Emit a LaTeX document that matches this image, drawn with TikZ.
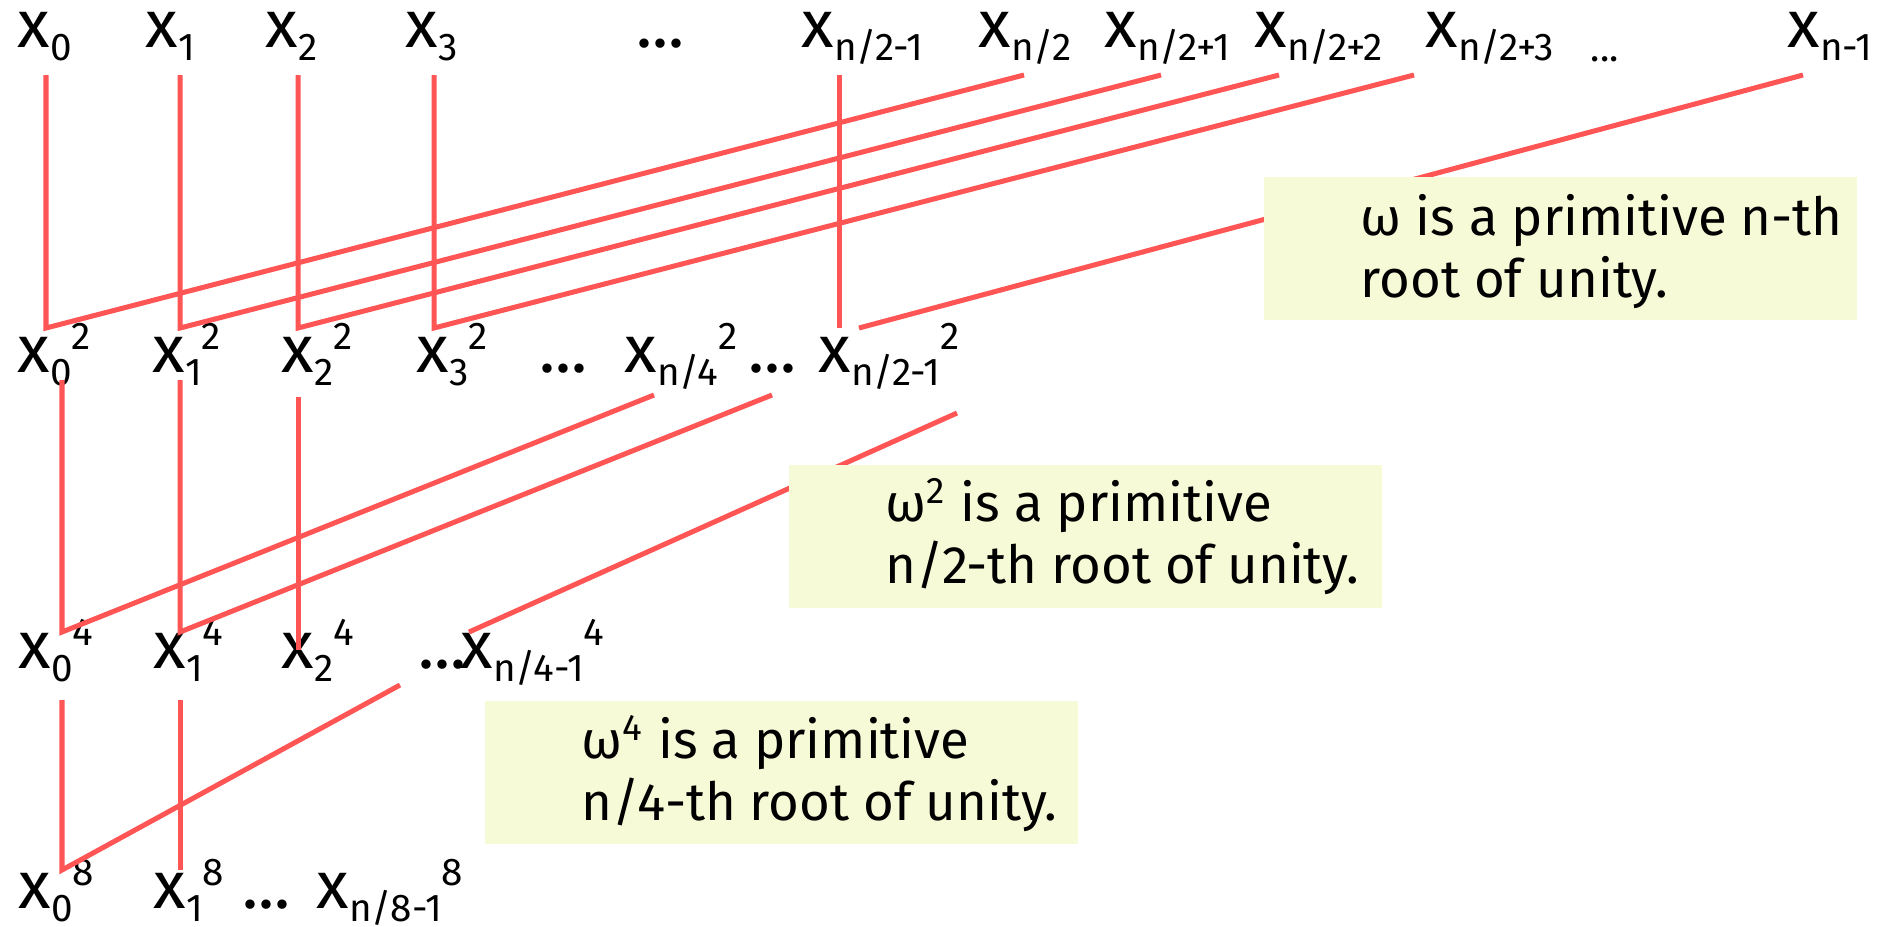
\documentclass[tikz,border=0pt]{standalone}
\usepackage{fontspec}
\setmainfont{Fira Sans}
\usetikzlibrary{positioning,calc}
\definecolor{linkred}{RGB}{255,85,85}
\definecolor{notebg}{RGB}{247,250,215}
\newcommand{\lblsz}{\fontsize{19}{22}\selectfont}
\newcommand{\idxsz}{\fontsize{11}{13}\selectfont}
\newcommand{\xlab}[2]{x\raisebox{-3.7pt}{\idxsz #1}\raisebox{6.3pt}{\idxsz #2}}
\tikzset{
  lbl/.style={anchor=base west, inner sep=0pt, font=\lblsz},
  link/.style={draw=linkred, line width=0.05cm},
  notebox/.style={anchor=north west, fill=notebg, minimum width=5.93cm, minimum height=1.43cm, inner sep=0pt},
  notetext/.style={anchor=base west, inner sep=0pt, align=left, font=\fontsize{15}{17.4}\selectfont}
}
\begin{document}
\begin{tikzpicture}[x=0.01cm, y=-0.01cm]
\useasboundingbox (0,0) rectangle (1892,926);

% inputs
\node[lbl] (t0) at (17,47) {\xlab{0}{}};
\node[lbl] (t1) at (145,47) {\xlab{1}{}};
\node[lbl] (t2) at (265,47) {\xlab{2}{}};
\node[lbl] (t3) at (405,47) {\xlab{3}{}};
\node[lbl] (tdots) at (636,47) {...};
\node[lbl] (thm) at (801,47) {\xlab{n/2-1}{}};
\node[lbl] (th) at (978,47) {\xlab{n/2}{}};
\node[lbl] (thp1) at (1104,47) {\xlab{n/2+1}{}};
\node[lbl] (thp2) at (1254,47) {\xlab{n/2+2}{}};
\node[lbl] (thp3) at (1425,47) {\xlab{n/2+3}{}};
\node[lbl, font=\idxsz] (tdots2) at (1590,61) {...};
\node[lbl] (tn) at (1787,47) {\xlab{n-1}{}};

% squares
\node[lbl] (s0) at (17,372) {\xlab{0}{2}};
\node[lbl] (s1) at (152,372) {\xlab{1}{2}};
\node[lbl] (s2) at (281,372) {\xlab{2}{2}};
\node[lbl] (s3) at (416,372) {\xlab{3}{2}};
\node[lbl] (sdots) at (539,372) {...};
\node[lbl] (sq) at (624,372) {\xlab{n/4}{2}};
\node[lbl] (sdots2) at (748,372) {...};
\node[lbl] (sh) at (818,372) {\xlab{n/2-1}{2}};

% fourth powers
\node[lbl] (f0) at (18,668) {\xlab{0}{4}};
\node[lbl] (f1) at (153,668) {\xlab{1}{4}};
\node[lbl] (f2) at (281,668) {\xlab{2}{4}};
\node[lbl] (fdots) at (418,668) {...};
\node[lbl] (fq) at (460,668) {\xlab{n/4-1}{4}};

% eighth powers
\node[lbl] (e0) at (18,908) {\xlab{0}{8}};
\node[lbl] (e1) at (153,908) {\xlab{1}{8}};
\node[lbl] (edots) at (242,908) {...};
\node[lbl] (eq) at (316,908) {\xlab{n/8-1}{8}};

% level 1
\coordinate (u0) at (46,75);  \coordinate (k0) at (46,328);  \coordinate (v0) at (1024,75);
\coordinate (u1) at (180,75); \coordinate (k1) at (180,328); \coordinate (v1) at (1161,75);
\coordinate (u2) at (298,75); \coordinate (k2) at (298,328); \coordinate (v2) at (1279,75);
\coordinate (u3) at (434,75); \coordinate (k3) at (434,328); \coordinate (v3) at (1414,75);
\coordinate (u4) at (839,75); \coordinate (k4) at (839,328);
\coordinate (k5) at (859,328); \coordinate (v5) at (1803,75);
\draw[link] (u0) -- (k0) -- (v0);
\draw[link] (u1) -- (k1) -- (v1);
\draw[link] (u2) -- (k2) -- (v2);
\draw[link] (u3) -- (k3) -- (v3);
\draw[link] (u4) -- (k4);
\draw[link] (k5) -- (v5);

% level 2
\coordinate (m0) at (62,380);  \coordinate (n0) at (62,632);  \coordinate (o0) at (654,395);
\coordinate (m1) at (180,380); \coordinate (n1) at (180,632); \coordinate (o1) at (772,395);
\coordinate (m2) at (298,397); \coordinate (n2) at (298,650);
\coordinate (n3) at (469,632); \coordinate (o3) at (957,413);
\draw[link] (m0) -- (n0) -- (o0);
\draw[link] (m1) -- (n1) -- (o1);
\draw[link] (m2) -- (n2);
\draw[link] (n3) -- (o3);

% level 3
\coordinate (g0) at (62,700);  \coordinate (h0) at (62,870);  \coordinate (j0) at (400,685);
\coordinate (g1) at (180,700); \coordinate (h1) at (180,870);
\draw[link] (g0) -- (h0) -- (j0);
\draw[link] (g1) -- (h1);

% notes
\node[notebox] (w1) at (1263,176) {};
\node[notetext] (w1t) at ($(w1.north west)+(97,121)$) {ω is a primitive n-th\\root of unity.};
\node[notebox] (w2) at (788,464) {};
\node[notetext] (w2t) at ($(w2.north west)+(97,119)$) {ω\textsuperscript{2} is a primitive\\n/2-th root of unity.};
\node[notebox] (w3) at (484,700) {};
\node[notetext] (w3t) at ($(w3.north west)+(97,120)$) {ω\textsuperscript{4} is a primitive\\n/4-th root of unity.};
\end{tikzpicture}
\end{document}
